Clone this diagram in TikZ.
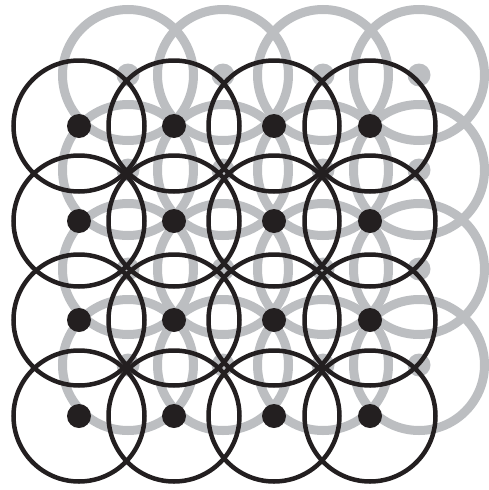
\documentclass[tikz,border=0pt]{standalone}
\begin{document}
\begin{tikzpicture}[x=1pt,y=-1pt,
  graycircle/.style={draw=ringgray,line width=9pt},
  graydot/.style={fill=ringgray},
  blackcircle/.style={draw=inkblack,line width=4.5pt},
  blackdot/.style={fill=inkblack}]
\definecolor{ringgray}{RGB}{188,190,193}
\definecolor{inkblack}{RGB}{35,31,32}
\useasboundingbox (0,0) rectangle (488,490);
% gray grid (offset up-right)
\foreach \x in {79,174,274,370}{
  \foreach \y in {126,221,320,416}{
    \draw[graycircle] (\x+49,\y-51) circle (65.5);
  }
}
\foreach \x in {79,174,274,370}{
  \foreach \y in {126,221,320,416}{
    \fill[graydot] (\x+49,\y-51) circle (11.5);
  }
}
% black grid
\foreach \x in {79,174,274,370}{
  \foreach \y in {126,221,320,416}{
    \draw[blackcircle] (\x,\y) circle (65.5);
    \fill[blackdot] (\x,\y) circle (12);
  }
}
\end{tikzpicture}
\end{document}
